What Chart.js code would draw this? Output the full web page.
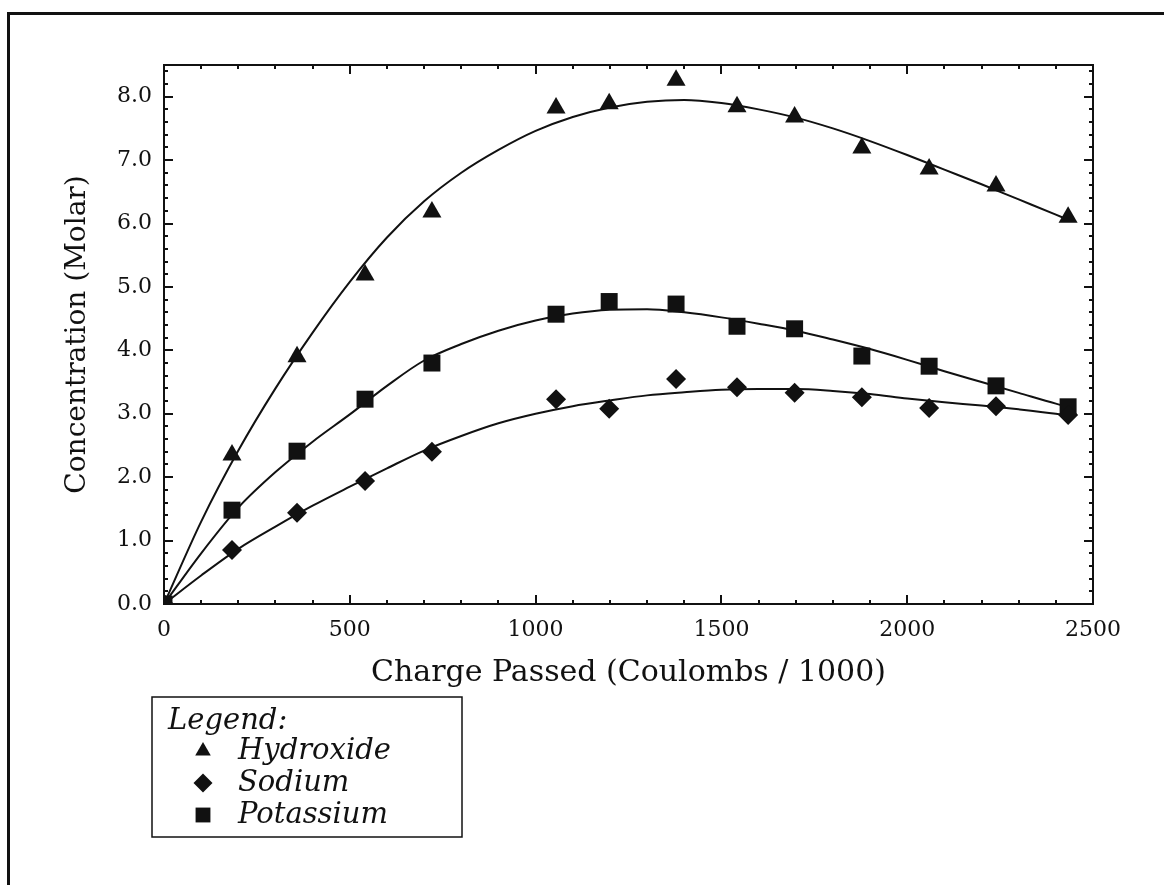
<!DOCTYPE html>
<html>
<head>
<meta charset="utf-8">
<script src="https://cdn.jsdelivr.net/npm/chart.js@4/dist/chart.umd.min.js"></script>
<style>
  html, body { margin: 0; padding: 0; background: #fff; }
  #wrap { position: relative; width: 1164px; height: 885px; overflow: hidden; }
  #frame { position: absolute; left: 7px; top: 12px; width: 1200px; height: 900px;
           border-left: 3px solid #111; border-top: 3px solid #111; }
  canvas { position: absolute; left: 0; top: 0; }
</style>
</head>
<body>
<div id="wrap">
  <div id="frame"></div>
  <canvas id="c" width="1164" height="885"></canvas>
</div>
<script>
// ---- data ----
const chargeX = [0, 183, 358, 541, 721, 1055, 1198, 1378, 1542, 1697, 1878, 2059, 2239, 2433];
const hydroxide = [0, 2.35, 3.90, 5.19, 6.18, 7.82, 7.89, 8.26, 7.84, 7.68, 7.19, 6.86, 6.59, 6.10];
const sodium    = [0, 0.85, 1.44, 1.94, 2.40, 3.23, 3.08, 3.55, 3.42, 3.33, 3.26, 3.09, 3.12, 2.98];
const potassium = [0, 1.48, 2.41, 3.23, 3.80, 4.57, 4.77, 4.73, 4.38, 4.34, 3.91, 3.75, 3.44, 3.11];

// fitted curves
const fitX = [0, 100, 200, 300, 400, 500, 600, 700, 800, 900, 1000, 1100, 1200, 1300, 1400, 1500, 1600, 1700, 1800, 1900, 2000, 2100, 2200, 2300, 2400, 2433];
const hydroxideFit = [0, 1.30, 2.42, 3.40, 4.28, 5.08, 5.78, 6.35, 6.80, 7.16, 7.46, 7.68, 7.83, 7.92, 7.95, 7.90, 7.80, 7.67, 7.50, 7.30, 7.08, 6.85, 6.62, 6.38, 6.14, 6.06];
const potassiumFit = [0, 0.80, 1.52, 2.08, 2.56, 2.99, 3.44, 3.84, 4.10, 4.31, 4.47, 4.58, 4.64, 4.65, 4.60, 4.52, 4.42, 4.31, 4.17, 4.02, 3.85, 3.67, 3.50, 3.33, 3.16, 3.11];
const sodiumFit    = [0, 0.45, 0.87, 1.22, 1.55, 1.85, 2.14, 2.42, 2.65, 2.85, 3.00, 3.12, 3.21, 3.29, 3.34, 3.38, 3.39, 3.39, 3.36, 3.31, 3.24, 3.18, 3.13, 3.07, 3.00, 2.97];

const xTickValues = [0, 500, 1000, 1500, 2000, 2500];
const yTickValues = [0, 1, 2, 3, 4, 5, 6, 7, 8];

const seriesLabels = ['Hydroxide', 'Sodium', 'Potassium'];
const xTitle = 'Charge Passed (Coulombs / 1000)';
const yTitle = 'Concentration (Molar)';
const legendTitle = 'Legend:';

const pts = (xs, ys) => xs.map((x, i) => ({x: x, y: ys[i]}));

const INK = '#111';
const SERIF = '"DejaVu Serif", "Liberation Serif", serif';

function markerDs(label, ys, style, r) {
  return { type: 'scatter', label: label, data: pts(chargeX, ys), showLine: false,
    pointStyle: style, pointRadius: r, pointHoverRadius: r,
    backgroundColor: INK, borderColor: INK, borderWidth: 0, order: 0 };
}
function fitDs(ys) {
  return { type: 'line', label: '', isFit: true, data: pts(fitX, ys), pointRadius: 0,
    borderColor: INK, borderWidth: 2, fill: false, cubicInterpolationMode: 'monotone', order: 1 };
}

const frameTicks = {
  id: 'frameTicks',
  afterDatasetsDraw(chart) {
    const {ctx, chartArea: a, scales: {x, y}} = chart;
    ctx.save();
    ctx.strokeStyle = INK;
    ctx.lineWidth = 2;
    ctx.strokeRect(a.left, a.top, a.right - a.left, a.bottom - a.top);
    ctx.beginPath();
    for (let v = 0; v <= 2500; v += 100) {
      const px = Math.round(x.getPixelForValue(v));
      const len = (v % 500 === 0) ? 9 : 4;
      ctx.moveTo(px, a.bottom); ctx.lineTo(px, a.bottom - len);
      ctx.moveTo(px, a.top); ctx.lineTo(px, a.top + len);
    }
    for (let k = 0; k <= 42; k++) {
      const v = k * 0.2;
      const py = Math.round(y.getPixelForValue(v));
      const len = (k % 5 === 0) ? 9 : 4;
      ctx.moveTo(a.left, py); ctx.lineTo(a.left + len, py);
      ctx.moveTo(a.right, py); ctx.lineTo(a.right - len, py);
    }
    ctx.stroke();
    ctx.restore();
  }
};

const boxLegend = {
  id: 'boxLegend',
  afterDraw(chart) {
    const ctx = chart.ctx;
    const bx = 152, by = 697, bw = 310, bh = 140;
    ctx.save();
    ctx.strokeStyle = INK;
    ctx.lineWidth = 1.5;
    ctx.strokeRect(bx, by, bw, bh);
    ctx.fillStyle = INK;
    ctx.font = 'italic 29px ' + SERIF;
    ctx.textBaseline = 'alphabetic';
    ctx.textAlign = 'left';
    ctx.fillText(legendTitle, 168, 729);
    const markers = chart.data.datasets.filter(d => !d.isFit);
    const rowBase = [759, 791, 823];
    const rowSize = {triangle: 9, rectRot: 9.5, rect: 10.5};
    markers.forEach((d, i) => {
      const cy = rowBase[i] - 8;
      const opts = {pointStyle: d.pointStyle, radius: rowSize[d.pointStyle] || 9, rotation: 0, borderWidth: 0};
      ctx.fillStyle = INK; ctx.strokeStyle = INK;
      if (Chart.helpers && Chart.helpers.drawPoint) {
        Chart.helpers.drawPoint(ctx, opts, 203, cy);
      }
      ctx.fillStyle = INK;
      ctx.fillText(d.label, 238, rowBase[i]);
    });
    ctx.restore();
  }
};

new Chart(document.getElementById('c'), {
  data: {
    datasets: [
      markerDs(seriesLabels[0], hydroxide, 'triangle', 11),
      markerDs(seriesLabels[1], sodium, 'rectRot', 10),
      markerDs(seriesLabels[2], potassium, 'rect', 12),
      fitDs(hydroxideFit),
      fitDs(sodiumFit),
      fitDs(potassiumFit)
    ]
  },
  options: {
    responsive: false,
    devicePixelRatio: 1,
    animation: false,
    layout: { padding: { left: 0, right: 71, top: 65, bottom: 181 } },
    plugins: { legend: { display: false }, tooltip: { enabled: false } },
    scales: {
      x: {
        type: 'linear', min: 0, max: 2500,
        afterFit: s => { s.height = 100; },
        afterBuildTicks: s => { s.ticks = xTickValues.map(v => ({value: v})); },
        grid: { display: false, drawTicks: false },
        border: { display: false },
        ticks: { padding: 13, color: INK, font: { family: SERIF, size: 22 }, maxRotation: 0,
                 callback: v => String(v) },
        title: { display: true, text: xTitle, color: INK, font: { family: SERIF, size: 30 },
                 padding: { top: 0, bottom: 13 } }
      },
      y: {
        type: 'linear', min: 0, max: 8.5,
        afterFit: s => { s.width = 164; },
        afterBuildTicks: s => { s.ticks = yTickValues.map(v => ({value: v})); },
        grid: { display: false, drawTicks: false },
        border: { display: false },
        ticks: { padding: 12, color: INK, font: { family: SERIF, size: 22 },
                 callback: v => Number(v).toFixed(1) },
        title: { display: true, text: yTitle, color: INK, font: { family: SERIF, size: 28 },
                 padding: { top: 61, bottom: 0 } }
      }
    }
  },
  plugins: [frameTicks, boxLegend]
});
</script>
</body>
</html>
